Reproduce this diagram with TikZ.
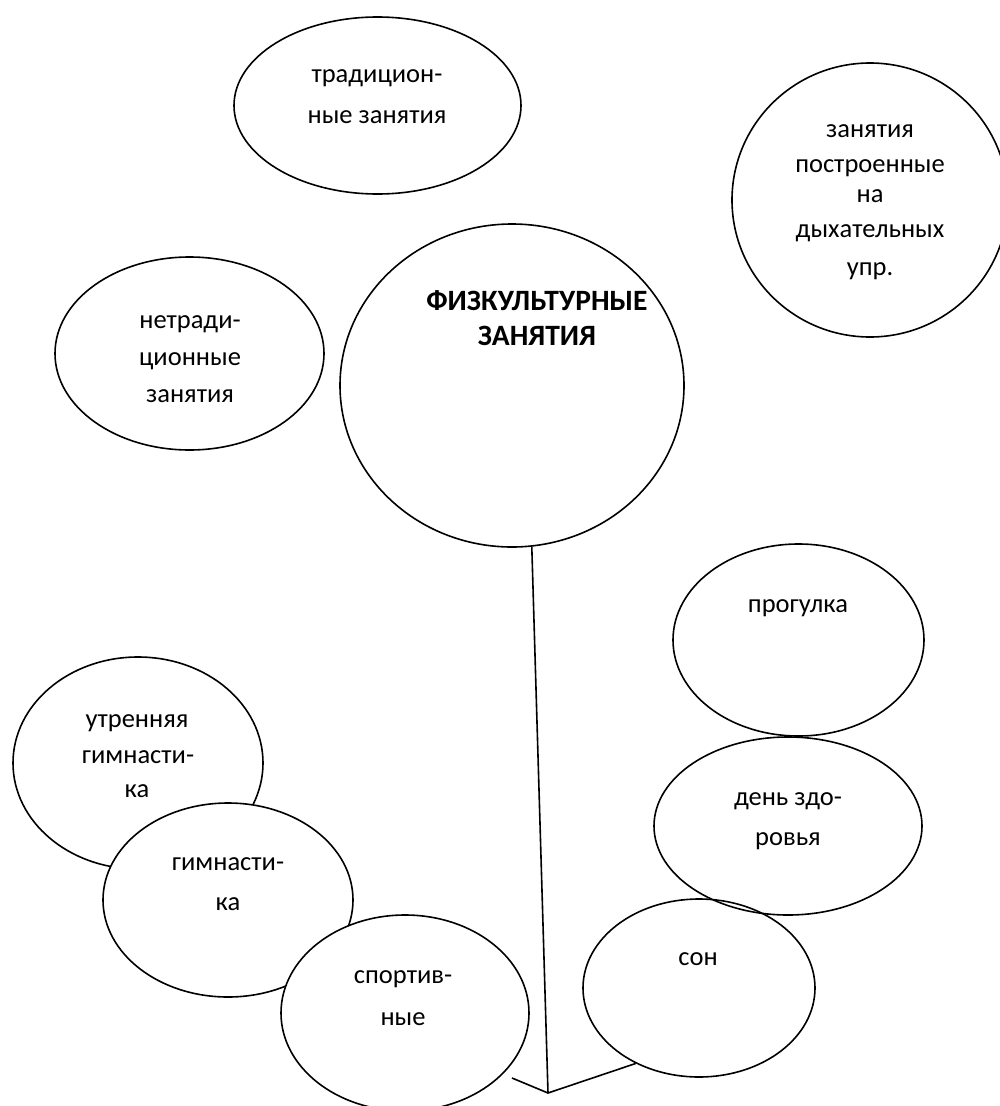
\documentclass[tikz,border=0pt]{standalone}
\usepackage{fontspec}
\setmainfont{Carlito}
\usetikzlibrary{shapes.geometric}
\begin{document}
\begin{tikzpicture}[x=1pt,y=-1pt,
  oval/.style={ellipse, draw=black, line width=1.6pt, inner sep=0pt},
  blank/.style={oval, fill=white},
  lbl/.style={anchor=base, inner sep=0pt, font=\fontsize{26.5}{30}\selectfont},
  ttl/.style={anchor=base, inner sep=0pt, font=\fontsize{29.5}{33}\selectfont\bfseries},
  link/.style={line width=1.6pt}]
\useasboundingbox (0,0) rectangle (999,1106);

% central topic
\node[oval, minimum width=344pt, minimum height=323pt] (main) at (512,385.5) {};
\node[ttl] (main-1) at (537,310) {ФИЗКУЛЬТУРНЫЕ};
\node[ttl] (main-2) at (537,345) {ЗАНЯТИЯ};

% upper group
\node[oval, minimum width=287pt, minimum height=177pt] (trad) at (377.5,105.5) {};
\node[lbl] (trad-1) at (377,82) {традицион-};
\node[lbl] (trad-2) at (377,123) {ные занятия};

\node[oval, minimum width=276pt, minimum height=274pt] (breath) at (870,200) {};
\node[lbl] (breath-1) at (870,137) {занятия};
\node[lbl] (breath-2) at (870,172) {построенные};
\node[lbl] (breath-3) at (870,202) {на};
\node[lbl] (breath-4) at (870,237) {дыхательных};
\node[lbl] (breath-5) at (870,275) {упр.};

\node[oval, minimum width=269pt, minimum height=193pt] (nontrad) at (189.5,353.5) {};
\node[lbl] (nontrad-1) at (190,328) {нетради-};
\node[lbl] (nontrad-2) at (190,365) {ционные};
\node[lbl] (nontrad-3) at (190,402) {занятия};

% right column
\node[oval, minimum width=251pt, minimum height=192pt] (walk) at (798.5,640) {};
\node[lbl] (walk-1) at (798,612) {прогулка};

\node[oval, minimum width=268pt, minimum height=178pt] (health) at (788,826) {};
\node[lbl] (health-1) at (788,805) {день здо-};
\node[lbl] (health-2) at (788,845) {ровья};

\node[oval, minimum width=232pt, minimum height=178pt] (son) at (699,988) {};
\node[lbl] (son-1) at (698,965) {сон};

% left cascade, each one laid over the previous
\node[oval, minimum width=250pt, minimum height=212pt] (morning) at (138,763) {};
\node[lbl] (morning-1) at (137,727) {утренняя};
\node[lbl] (morning-2) at (138,763) {гимнасти-};
\node[lbl] (morning-3) at (137,797) {ка};

\node[blank, minimum width=250pt, minimum height=194pt] (gym) at (228,900) {};
\node[lbl] (gym-1) at (228,870) {гимнасти-};
\node[lbl] (gym-2) at (228,910) {ка};

\node[blank, minimum width=248pt, minimum height=196pt] (sport) at (405,1013) {};
\node[lbl] (sport-1) at (403,983) {спортив-};
\node[lbl] (sport-2) at (403,1025) {ные};

% stem and fork
\coordinate (v) at (548,1093);
\coordinate (fork-left) at (512,1078);
\draw[link] (main.-83) -- (v);
\draw[link] (fork-left) -- (v) -- (son.230);
\end{tikzpicture}
\end{document}
